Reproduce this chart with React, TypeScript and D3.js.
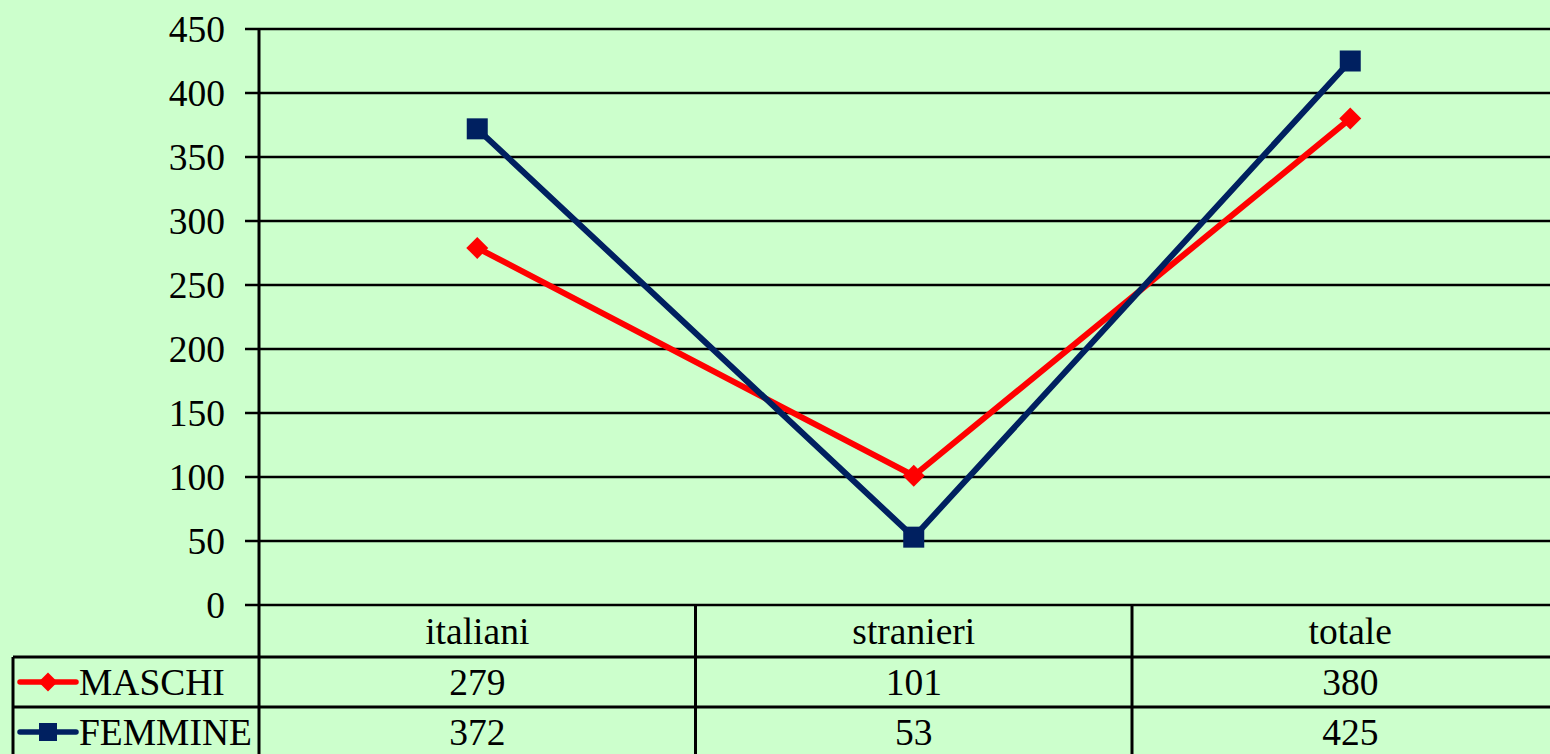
import React from "react";
import * as d3 from "d3";

const categories = ["italiani", "stranieri", "totale"];
const maschi = [279, 101, 380];
const femmine = [372, 53, 425];
const yTicks = [0, 50, 100, 150, 200, 250, 300, 350, 400, 450];
const seriesNames = ["MASCHI", "FEMMINE"];

const W = 1550;
const H = 754;
const BG = "#CCFFCC";
const RED = "#FF0000";
const NAVY = "#002060";
const FONT = "'Liberation Serif', 'Times New Roman', serif";
const FS = 37.5;

export default function App() {
  React.useEffect(() => {
    document.body.style.margin = "0";
  }, []);

  const left = 259;
  const bandW = 436.5;
  const x = d3.scaleBand<string>().domain(categories).range([left, left + bandW * categories.length]);
  const y = d3.scaleLinear().domain([0, 450]).range([605, 29]);
  const cx = (c: string) => (x(c) as number) + x.bandwidth() / 2;

  const line = d3
    .line<number>()
    .x((_, i) => cx(categories[i]))
    .y((d) => y(d));

  const rowTop = [605, 657, 707];
  const rowH = [52, 50, 50];
  const series = [
    { name: seriesNames[0], values: maschi, color: RED, shape: "diamond" },
    { name: seriesNames[1], values: femmine, color: NAVY, shape: "square" },
  ];

  const marker = (shape: string, px: number, py: number, color: string, s: number, key: string) =>
    shape === "square" ? (
      <rect key={key} x={px - s / 2} y={py - s / 2} width={s} height={s} fill={color} />
    ) : (
      <path
        key={key}
        d={`M${px},${py - s / 2}L${px + s / 2},${py}L${px},${py + s / 2}L${px - s / 2},${py}Z`}
        fill={color}
      />
    );

  return (
    <svg
      width={W}
      height={H}
      style={{ display: "block", position: "absolute", left: 0, top: 0 }}
      fontFamily={FONT}
    >
      <rect x={0} y={0} width={W} height={H} fill={BG} />
      {yTicks.map((t) => (
        <g key={t}>
          <line x1={245} x2={W} y1={y(t)} y2={y(t)} stroke="#000" strokeWidth={2.5} />
          <text x={225} y={y(t)} dy="0.35em" textAnchor="end" fontSize={FS} fill="#000">
            {t}
          </text>
        </g>
      ))}
      <line x1={left} x2={left} y1={y(450) - 1} y2={H} stroke="#000" strokeWidth={3} />
      {categories.slice(1).map((c) => (
        <line key={c} x1={x(c)} x2={x(c)} y1={605} y2={H} stroke="#000" strokeWidth={3} />
      ))}
      <line x1={13} x2={W} y1={657} y2={657} stroke="#000" strokeWidth={3} />
      <line x1={13} x2={W} y1={707} y2={707} stroke="#000" strokeWidth={3} />
      <line x1={13} x2={13} y1={657} y2={H} stroke="#000" strokeWidth={3} />
      {categories.map((c) => (
        <text key={c} x={cx(c)} y={rowTop[0] + rowH[0] / 2} dy="0.35em" textAnchor="middle" fontSize={FS}>
          {c}
        </text>
      ))}
      {series.map((s, si) => {
        const top = rowTop[si + 1];
        const mid = top + rowH[si + 1] / 2;
        return (
          <g key={s.name}>
            <line x1={20} x2={76} y1={mid} y2={mid} stroke={s.color} strokeWidth={5.5} strokeLinecap="round" />
            {marker(s.shape, 48, mid, s.color, s.shape === "square" ? 18 : 19, "lm" + si)}
            <text x={79} y={mid} dy="0.35em" fontSize={FS}>
              {s.name}
            </text>
            {s.values.map((v, i) => (
              <text key={i} x={cx(categories[i])} y={mid} dy="0.35em" textAnchor="middle" fontSize={FS}>
                {v}
              </text>
            ))}
          </g>
        );
      })}
      {series.map((s, si) => (
        <g key={"l" + si}>
          <path d={line(s.values) || ""} fill="none" stroke={s.color} strokeWidth={6} />
          {s.values.map((v, i) =>
            marker(s.shape, cx(categories[i]), y(v), s.color, s.shape === "square" ? 21 : 22, s.name + i)
          )}
        </g>
      ))}
    </svg>
  );
}
